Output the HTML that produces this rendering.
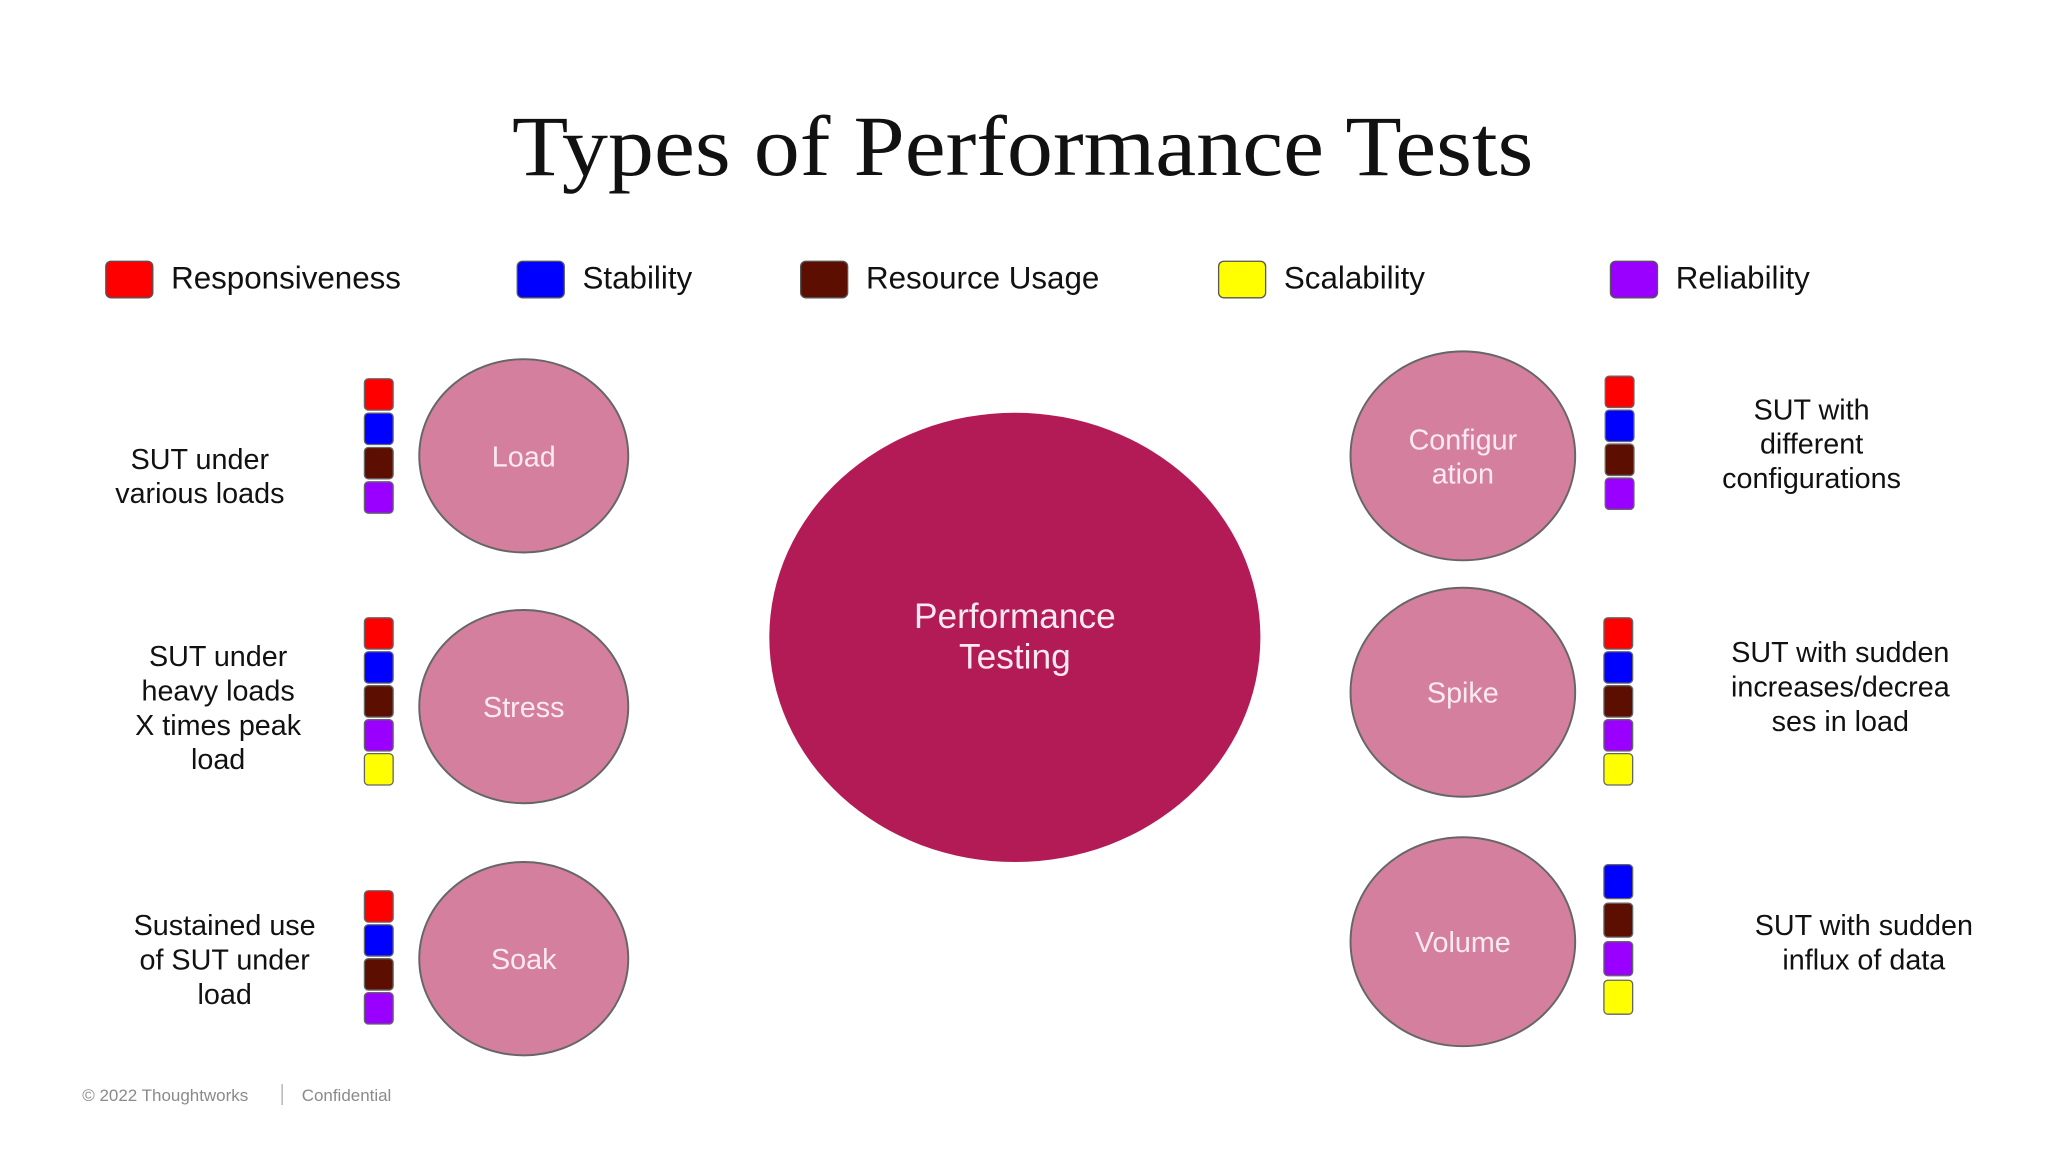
<!DOCTYPE html>
<html><head><meta charset="utf-8"><style>
html,body{margin:0;padding:0;background:#fff;}
svg{display:block;}
text{font-family:"Liberation Sans","DejaVu Sans",sans-serif;}
</style></head><body>
<svg width="2048" height="1152" viewBox="0 0 1568 882" xmlns="http://www.w3.org/2000/svg">
<rect width="1568" height="882" fill="#fff"/>
<text x="783" y="134" text-anchor="middle" font-size="66" textLength="782" lengthAdjust="spacingAndGlyphs" style="font-family:'Liberation Serif','DejaVu Serif',serif" fill="#111">Types of Performance Tests</text>
<g id="legend"></g>
<ellipse cx="777" cy="488" rx="188" ry="172" fill="#b31b57"/>
<text x="777" y="481" text-anchor="middle" font-size="27" fill="#fbe9f0">Performance</text>
<text x="777" y="512" text-anchor="middle" font-size="27" fill="#fbe9f0">Testing</text>
<g id="nodes"></g>
<text x="63" y="843" font-size="13" fill="#8a8a8a">© 2022 Thoughtworks</text>
<line x1="216" y1="830" x2="216" y2="846" stroke="#aaa" stroke-width="1"/>
<text x="231" y="843" font-size="13" fill="#8a8a8a">Confidential</text>
</svg>
<script>
const NS="http://www.w3.org/2000/svg";
const colors={R:"#ff0000",B:"#0000ff",U:"#5c0f00",Y:"#ffff00",P:"#9900ff"};
const legendKeys=["R","B","U","Y","P"];
const legendLabels=["Responsiveness","Stability","Resource Usage","Scalability","Reliability"];
const legendX=[81,396,613,933,1233];
function mk(tag,attrs,parent){const e=document.createElementNS(NS,tag);for(const k in attrs)e.setAttribute(k,attrs[k]);parent.appendChild(e);return e;}
const lg=document.getElementById("legend");
legendKeys.forEach((k,i)=>{
  const r=mk("rect",{x:legendX[i],y:200,width:36,height:28,rx:4,fill:colors[k],stroke:"#555","stroke-width":1},lg);
  
  
  const t=mk("text",{x:legendX[i]+50,y:221,"font-size":24,fill:"#111"},lg);
  t.textContent=legendLabels[i];
  
  
});
const nodes=[
 {name:"load",label:["Load"],cx:401,cy:349,rx:80,ry:74,sqx:279,sqy:290,step:26.3,sqh:24,keys:"RBUP",desc:["SUT under","various loads"],dx:153,dy:351},
 {name:"stress",label:["Stress"],cx:401,cy:541,rx:80,ry:74,sqx:279,sqy:473,step:26,sqh:24,keys:"RBUPY",desc:["SUT under","heavy  loads","X times peak","load"],dx:167,dy:502},
 {name:"soak",label:["Soak"],cx:401,cy:734,rx:80,ry:74,sqx:279,sqy:682,step:26,sqh:24,keys:"RBUP",desc:["Sustained use","of SUT under","load"],dx:172,dy:708},
 {name:"configuration",label:["Configur","ation"],cx:1120,cy:349,rx:86,ry:80,sqx:1229,sqy:288,step:26,sqh:24,keys:"RBUP",desc:["SUT with","different","configurations"],dx:1387,dy:313},
 {name:"spike",label:["Spike"],cx:1120,cy:530,rx:86,ry:80,sqx:1228,sqy:473,step:26,sqh:24,keys:"RBUPY",desc:["SUT with sudden","increases/decrea","ses in load"],dx:1409,dy:499},
 {name:"volume",label:["Volume"],cx:1120,cy:721,rx:86,ry:80,sqx:1228,sqy:662,step:29.5,sqh:26,keys:"BUPY",desc:["SUT with sudden","influx of data"],dx:1427,dy:708}
];
const ng=document.getElementById("nodes");
nodes.forEach(n=>{
  const g=mk("g",{},ng);
  
  
  const e=mk("ellipse",{cx:n.cx,cy:n.cy,rx:n.rx,ry:n.ry,fill:"#d47f9d",stroke:"#666","stroke-width":1.5},g);
  
  
  const off=(n.label.length-1)*13;
  n.label.forEach((l,i)=>{
    const t=mk("text",{x:n.cx,y:n.cy-off+i*26+8,"text-anchor":"middle","font-size":22,fill:"#fbeaf0"},g);
    t.textContent=l;
    
    
  });
  n.keys.split("").forEach((k,i)=>{
    const r=mk("rect",{x:n.sqx,y:n.sqy+i*n.step,width:22,height:n.sqh,rx:3,fill:colors[k],stroke:"#666","stroke-width":1},g);
    
    
  });
  n.desc.forEach((l,i)=>{
    const t=mk("text",{x:n.dx,y:n.dy+i*26.3+8,"text-anchor":"middle","font-size":22,fill:"#111"},g);
    t.textContent=l;
    
    
  });
});
</script>
</body></html>
